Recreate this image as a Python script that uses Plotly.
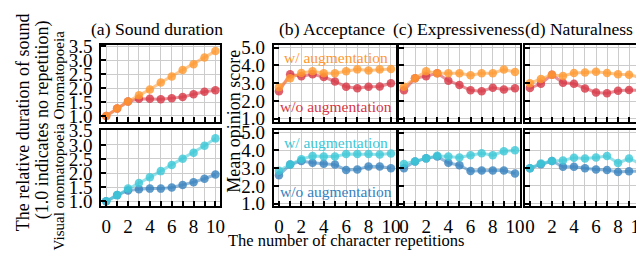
import plotly.graph_objects as go

W, H = 644, 254
FONT = "Liberation Serif"

reps = list(range(11))

# (a) Sound duration (relative)
dur_ono_aug = [1.0, 1.27, 1.52, 1.74, 1.95, 2.2, 2.42, 2.65, 2.86, 3.1, 3.33]
dur_ono_noaug = [1.0, 1.27, 1.52, 1.62, 1.62, 1.6, 1.64, 1.68, 1.78, 1.87, 1.92]
dur_vis_aug = [1.0, 1.22, 1.45, 1.65, 1.85, 2.07, 2.29, 2.51, 2.72, 2.97, 3.23]
dur_vis_noaug = [1.0, 1.22, 1.38, 1.43, 1.45, 1.45, 1.49, 1.58, 1.68, 1.8, 1.95]

# (b) Acceptance
acc_ono_aug = [2.78, 3.28, 3.58, 3.68, 3.56, 3.56, 3.68, 3.78, 3.72, 3.78, 3.8]
acc_ono_noaug = [2.55, 3.5, 3.4, 3.5, 3.35, 3.1, 2.8, 2.72, 2.8, 2.82, 3.0]
acc_vis_aug = [2.85, 3.2, 3.5, 3.68, 3.65, 3.65, 3.8, 3.8, 3.8, 3.77, 3.83]
acc_vis_noaug = [2.6, 3.2, 3.4, 3.3, 3.25, 3.2, 2.9, 2.93, 3.1, 3.1, 3.0]

# (c) Expressiveness
exp_ono_aug = [2.8, 3.28, 3.67, 3.56, 3.56, 3.56, 3.45, 3.56, 3.56, 3.77, 3.63]
exp_ono_noaug = [2.6, 3.28, 3.4, 3.56, 3.14, 2.9, 2.6, 2.55, 2.75, 2.65, 2.72]
exp_vis_aug = [3.23, 3.37, 3.55, 3.7, 3.65, 3.6, 3.73, 3.84, 3.73, 3.95, 4.0]
exp_vis_noaug = [3.0, 3.37, 3.55, 3.65, 3.3, 3.16, 2.84, 2.87, 2.87, 2.87, 2.7]

# (d) Naturalness
nat_ono_aug = [3.0, 3.24, 3.48, 3.41, 3.57, 3.6, 3.64, 3.57, 3.5, 3.48, 3.33]
nat_ono_noaug = [2.73, 2.97, 3.48, 3.03, 2.97, 2.71, 2.48, 2.44, 2.58, 2.62, 2.6]
nat_vis_aug = [3.0, 3.26, 3.4, 3.43, 3.59, 3.54, 3.6, 3.68, 3.29, 3.54, 3.26]
nat_vis_noaug = [3.0, 3.22, 3.4, 3.08, 3.08, 2.99, 2.92, 2.9, 2.78, 2.83, 2.83]

panel_titles = ["(a) Sound duration", "(b) Acceptance", "(c) Expressiveness", "(d) Naturalness"]
dur_ticks = [1.0, 1.5, 2.0, 2.5, 3.0, 3.5]
mos_ticks = [1.0, 2.0, 3.0, 4.0, 5.0]
x_ticklabels = ["0", "", "2", "", "4", "", "6", "", "8", "", "10"]

COL = {
    "orange": (255, 152, 48),
    "red": (215, 55, 70),
    "cyan": (60, 200, 215),
    "blue": (55, 130, 190),
}

def rgba(c, a):
    return "rgba(%d,%d,%d,%.2f)" % (c[0], c[1], c[2], a)

cols_px = [(94, 214), (268, 391), (394, 516), (521, 642)]
rows_px = [(30, 112), (121, 203)]

def xd(px):
    return [px[0] / W, px[1] / W]

def yd(py):
    return [1 - py[1] / H, 1 - py[0] / H]

data = [
    [(dur_ono_aug, dur_ono_noaug), (acc_ono_aug, acc_ono_noaug), (exp_ono_aug, exp_ono_noaug), (nat_ono_aug, nat_ono_noaug)],
    [(dur_vis_aug, dur_vis_noaug), (acc_vis_aug, acc_vis_noaug), (exp_vis_aug, exp_vis_noaug), (nat_vis_aug, nat_vis_noaug)],
]
row_colors = [("orange", "red"), ("cyan", "blue")]

fig = go.Figure()
layout = dict(
    width=W, height=H, margin=dict(l=0, r=0, t=0, b=0),
    paper_bgcolor="white", plot_bgcolor="white",
    showlegend=False,
    font=dict(family=FONT, size=18, color="black"),
)

TICKFONT = 19
idx = 0
for r in range(2):
    for c in range(4):
        idx += 1
        xa = "x" if idx == 1 else "x%d" % idx
        ya = "y" if idx == 1 else "y%d" % idx
        aug, noaug = data[r][c]
        ca, cn = row_colors[r]
        for vals, cname in ((noaug, cn), (aug, ca)):
            fig.add_trace(go.Scatter(
                x=reps, y=vals, mode="lines+markers", xaxis=xa, yaxis=ya,
                line=dict(color=rgba(COL[cname], 0.55), width=3),
                marker=dict(color=rgba(COL[cname], 0.8), size=8.5),
                hoverinfo="skip",
            ))
        if c == 0:
            yr = [0.8, 3.55] if r == 0 else [0.82, 3.53]
            tv = dur_ticks
        else:
            yr = [0.85, 5.15]
            tv = mos_ticks
        show_ylabels = c <= 1
        xkey = "xaxis" if idx == 1 else "xaxis%d" % idx
        ykey = "yaxis" if idx == 1 else "yaxis%d" % idx
        layout[xkey] = dict(
            domain=xd(cols_px[c]), anchor=ya, range=[-0.45, 10.45],
            tickvals=reps, ticktext=x_ticklabels if r == 1 else [""] * 11,
            ticks="inside", ticklen=5, tickwidth=1.5, tickcolor="black",
            showgrid=True, gridcolor="#cccccc", gridwidth=1,
            showline=True, linecolor="black", linewidth=2, mirror=True,
            zeroline=False, tickfont=dict(size=TICKFONT), ticklabelstandoff=2,
        )
        layout[ykey] = dict(
            domain=yd(rows_px[r]), anchor=xa, range=yr,
            tickvals=tv,
            ticktext=["%.1f" % v for v in tv] if show_ylabels else [""] * len(tv),
            ticks="inside", ticklen=5, tickwidth=1.5, tickcolor="black",
            showgrid=True, gridcolor="#cccccc", gridwidth=1,
            showline=True, linecolor="black", linewidth=2, mirror=True,
            zeroline=False, tickfont=dict(size=TICKFONT), ticklabelstandoff=3,
        )

ann = []
title_left = [82, 271, 386, 519]
for t, lx in zip(panel_titles, title_left):
    ann.append(dict(text=t, x=lx / W, y=1 - 13 / H, xref="paper", yref="paper",
                    showarrow=False, font=dict(size=17.6), xanchor="left", yanchor="middle"))
aug_labels = [
    ("w/ augmentation", "orange", 43),
    ("w/o augmentation", "red", 96),
    ("w/ augmentation", "cyan", 135),
    ("w/o augmentation", "blue", 187),
]
for t, cname, py in aug_labels:
    ann.append(dict(text=t, x=331 / W, y=1 - py / H, xref="paper", yref="paper",
                    showarrow=False, font=dict(size=15.5, color=rgba(COL[cname], 1.0)),
                    xanchor="center", yanchor="middle"))
ann.append(dict(text="The number of character repetitions", x=341 / W, y=1 - 239 / H,
                xref="paper", yref="paper", showarrow=False, font=dict(size=16.5),
                xanchor="center", yanchor="middle"))
ann.append(dict(text="Mean opinion score", x=227 / W, y=1 - 112 / H, xref="paper", yref="paper",
                showarrow=False, textangle=-90, font=dict(size=18), xanchor="center", yanchor="middle"))
ann.append(dict(text="The relative duration of sound", x=16 / W, y=1 - 113 / H, xref="paper", yref="paper",
                showarrow=False, textangle=-90, font=dict(size=18), xanchor="center", yanchor="middle"))
ann.append(dict(text="(1.0 indicates no repetition)", x=35 / W, y=1 - 110 / H, xref="paper", yref="paper",
                showarrow=False, textangle=-90, font=dict(size=18), xanchor="center", yanchor="middle"))
ann.append(dict(text="Onomatopoeia", x=51 / W, y=1 - 62 / H, xref="paper", yref="paper",
                showarrow=False, textangle=-90, font=dict(size=15), xanchor="center", yanchor="middle"))
ann.append(dict(text="Visual onomatopoeia", x=51 / W, y=1 - 182 / H, xref="paper", yref="paper",
                showarrow=False, textangle=-90, font=dict(size=15), xanchor="center", yanchor="middle"))
layout["annotations"] = ann

fig.update_layout(**layout)
fig.write_html("out.html")
